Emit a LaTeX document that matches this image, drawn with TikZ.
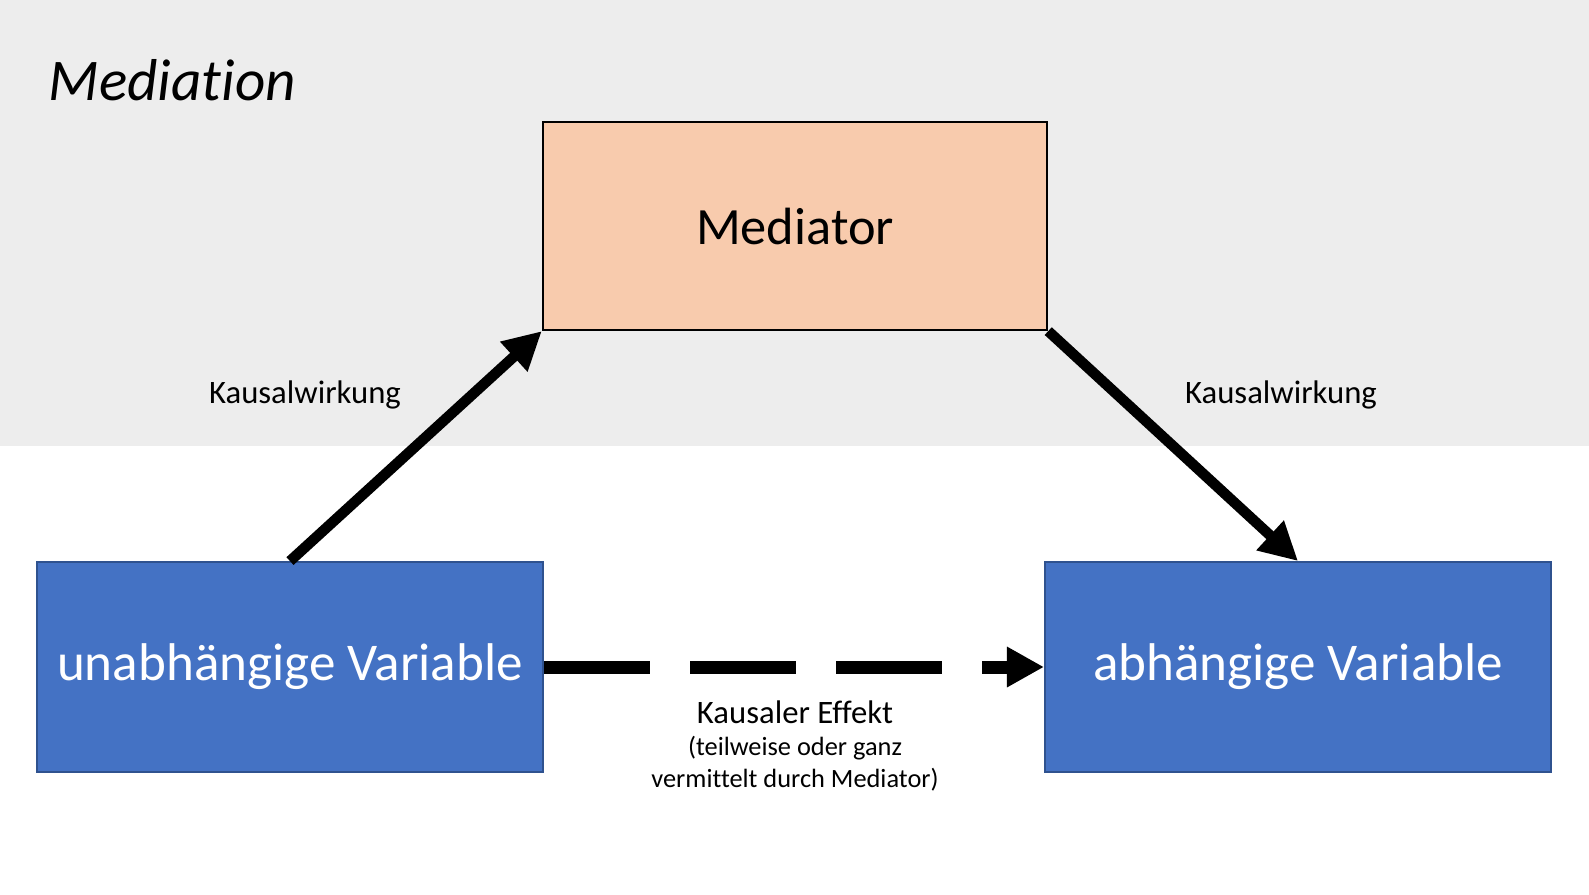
\documentclass[tikz,border=0pt]{standalone}
\usepackage{fontspec}
\setmainfont{Carlito}[Ligatures=NoCommon]
\usetikzlibrary{arrows.meta}
\definecolor{bggrey}{HTML}{EDEDED}
\definecolor{medfill}{HTML}{F8CBAD}
\definecolor{varfill}{HTML}{4472C4}
\definecolor{vardraw}{HTML}{2F528F}
\begin{document}
\begin{tikzpicture}[
    x=0.01cm, y=-0.01cm,
    mediatorbox/.style={rectangle, draw=black, line width=0.6pt, fill=medfill, minimum width=5.04cm, minimum height=2.08cm, font=\fontsize{14.9}{18}\selectfont},
    varbox/.style={rectangle, draw=vardraw, line width=0.5pt, fill=varfill, text=white, minimum width=5.06cm, minimum height=2.10cm, font=\fontsize{15.1}{18}\selectfont},
    effect/.style={-{Triangle[length=0.38cm, width=0.38cm]}, line width=0.105cm},
    label/.style={font=\fontsize{9.3}{11}\selectfont}
]
\useasboundingbox (0,0) rectangle (1589,894);

% Background band
\fill[bggrey] (0,0) rectangle (1589,446);
\node[anchor=base west, inner sep=0pt, font=\fontsize{16.8}{20}\selectfont\itshape] (title) at (48,101) {Mediation};

% Boxes
\node[mediatorbox] (med) at (795,226) {Mediator};
\node[varbox] (iv) at (290,667) {unabhängige Variable};
\node[varbox] (dv) at (1298,667) {abhängige Variable};

% Connections
\draw[effect] (iv.north) -- (med.south west);
\draw[effect] (med.south east) -- (dv.north);
\draw[-{Triangle[length=0.37cm, width=0.38cm]}, line width=0.13cm, dash pattern=on 1.06cm off 0.40cm] (iv.east) -- (dv.west);

% Labels
\node[label] (lblleft) at (305,395) {Kausalwirkung};
\node[label] (lblright) at (1281,395) {Kausalwirkung};
\node[label] (lbleffect) at (795,712) {Kausaler Effekt};
\node[align=center, font=\fontsize{7.5}{9.1}\selectfont] (lblnote) at (795,764) {(teilweise oder ganz\\vermittelt durch Mediator)};

\end{tikzpicture}
\end{document}
